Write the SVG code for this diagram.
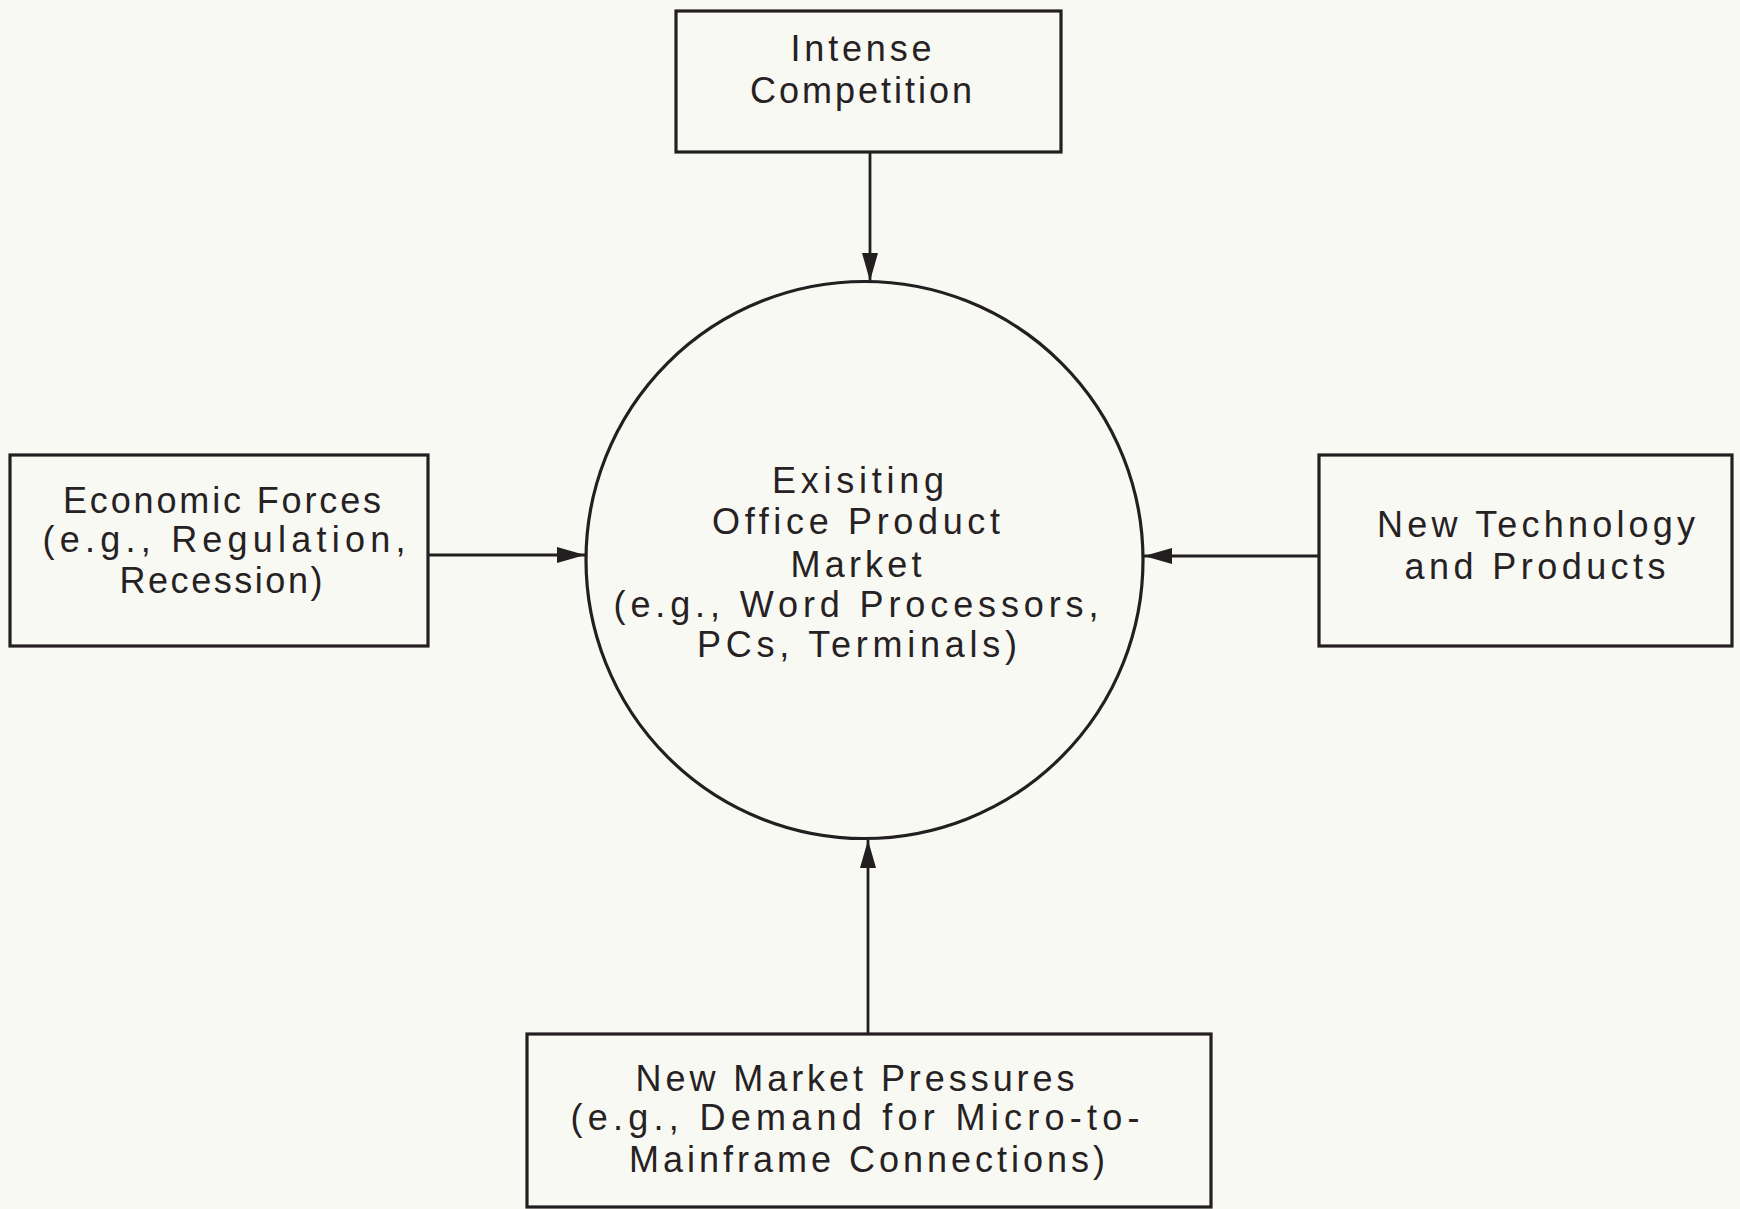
<svg xmlns="http://www.w3.org/2000/svg" width="1740" height="1209" viewBox="0 0 1740 1209">
  <style>
    .frame { fill: none; stroke: #231f20; stroke-width: 3.2; }
    .link { fill: none; stroke: #231f20; stroke-width: 2.8; }
    .label { font-family: "Liberation Sans", Arial, sans-serif; font-size: 36px; fill: #262223; text-anchor: middle; }
  </style>
  <defs>
    <marker id="arrowhead" markerUnits="userSpaceOnUse" markerWidth="30" markerHeight="18" refX="28" refY="9" orient="auto">
      <path d="M0,1 L28,9 L0,17 Z" fill="#231f20"/>
    </marker>
  </defs>

  <rect width="1740" height="1209" fill="#f9f9f4"/>

  <!-- connectors: each force points into the market -->
  <g id="connectors">
    <line class="link" x1="870" y1="152" x2="870" y2="281" marker-end="url(#arrowhead)"/>
    <line class="link" x1="428" y1="555" x2="585" y2="555" marker-end="url(#arrowhead)"/>
    <line class="link" x1="1319" y1="556" x2="1144" y2="556" marker-end="url(#arrowhead)"/>
    <line class="link" x1="868" y1="1034" x2="868" y2="840" marker-end="url(#arrowhead)"/>
  </g>

  <g id="market">
    <circle class="frame" cx="864.5" cy="560" r="278.5"/>
    <text class="label" x="858" y="493" textLength="172" lengthAdjust="spacing">Exisiting</text>
    <text class="label" x="856" y="534" textLength="288" lengthAdjust="spacing">Office Product</text>
    <text class="label" x="856" y="577" textLength="131" lengthAdjust="spacing">Market</text>
    <text class="label" x="856" y="617" textLength="485" lengthAdjust="spacing">(e.g., Word Processors,</text>
    <text class="label" x="857" y="657" textLength="320" lengthAdjust="spacing">PCs, Terminals)</text>
  </g>

  <g id="competition">
    <rect class="frame" x="676" y="11" width="385" height="141"/>
    <text class="label" x="861" y="61" textLength="141" lengthAdjust="spacing">Intense</text>
    <text class="label" x="861" y="103" textLength="222" lengthAdjust="spacing">Competition</text>
  </g>

  <g id="economic-forces">
    <rect class="frame" x="10" y="455" width="418" height="191"/>
    <text class="label" x="222" y="513" textLength="318" lengthAdjust="spacing">Economic Forces</text>
    <text class="label" x="224" y="552" textLength="363" lengthAdjust="spacing">(e.g., Regulation,</text>
    <text class="label" x="221" y="593" textLength="203" lengthAdjust="spacing">Recession)</text>
  </g>

  <g id="new-technology">
    <rect class="frame" x="1319" y="455" width="413" height="191"/>
    <text class="label" x="1536" y="537" textLength="318" lengthAdjust="spacing">New Technology</text>
    <text class="label" x="1535" y="579" textLength="261" lengthAdjust="spacing">and Products</text>
  </g>

  <g id="market-pressures">
    <rect class="frame" x="527" y="1034" width="684" height="173"/>
    <text class="label" x="855" y="1091" textLength="439" lengthAdjust="spacing">New Market Pressures</text>
    <text class="label" x="855" y="1130" textLength="569" lengthAdjust="spacing">(e.g., Demand for Micro-to-</text>
    <text class="label" x="867" y="1172" textLength="476" lengthAdjust="spacing">Mainframe  Connections)</text>
  </g>
</svg>
